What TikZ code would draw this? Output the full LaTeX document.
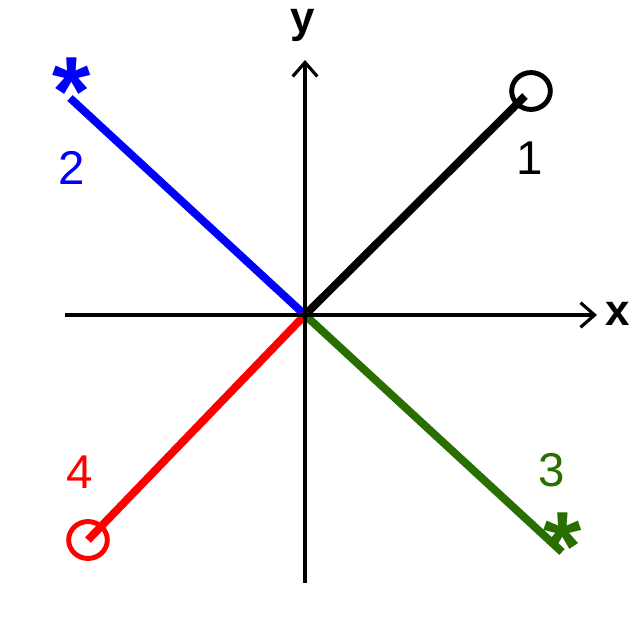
\documentclass[tikz,border=0pt]{standalone}
\usepackage{fontspec}
\setmainfont{Liberation Sans}
\usetikzlibrary{arrows.meta,shapes.geometric}
\definecolor{dgreen}{RGB}{40,110,0}
\begin{document}
\begin{tikzpicture}[x=0.02cm,y=-0.02cm,
  axis/.style={line width=1.8pt,-{Straight Barb[length=8pt,width=14pt,line width=1.8pt]}},
  ray/.style={line width=4.5pt},
  lbl/.style={font=\fontsize{27}{30}\selectfont},
  circ/.style={ellipse,draw,line width=2.8pt,minimum width=22pt,minimum height=21pt,inner sep=0pt},
  starm/.style={font=\bfseries\fontsize{56}{56}\selectfont,inner sep=0pt,text height=20pt,text depth=0pt}]
\useasboundingbox (0,0) rectangle (640,640);
\coordinate (o) at (305,315);
\coordinate (xs) at (65,315); \coordinate (xe) at (597,315);
\coordinate (ys) at (305,583); \coordinate (ye) at (305,60);
\coordinate (p1) at (525,96); \coordinate (p2) at (70,98);
\coordinate (p3) at (562,552); \coordinate (p4) at (88,540);
\draw[ray,black] (o) -- (p1);
\draw[ray,blue] (o) -- (p2);
\draw[ray,dgreen] (o) -- (p3);
\draw[ray,red] (o) -- (p4);
\draw[axis] (xs) -- (xe);
\draw[axis] (ys) -- (ye);
\node[font=\bfseries\fontsize{25}{30}\selectfont] (xl) at (618,314) {x};
\node[font=\bfseries\fontsize{25}{30}\selectfont] (yl) at (303,25) {y};
\node[circ,black] (m1) at (531,91) {};
\node[circ,red] (m4) at (88,540) {};
\node[starm,blue] (m2) at (72,108) {*};
\node[starm,dgreen] (m3) at (563,563) {*};
\node[lbl,black] (l1) at (530,158) {1};
\node[lbl,blue] (l2) at (72,168) {2};
\node[lbl,dgreen] (l3) at (552,470) {3};
\node[lbl,red] (l4) at (80,472) {4};
\end{tikzpicture}
\end{document}
